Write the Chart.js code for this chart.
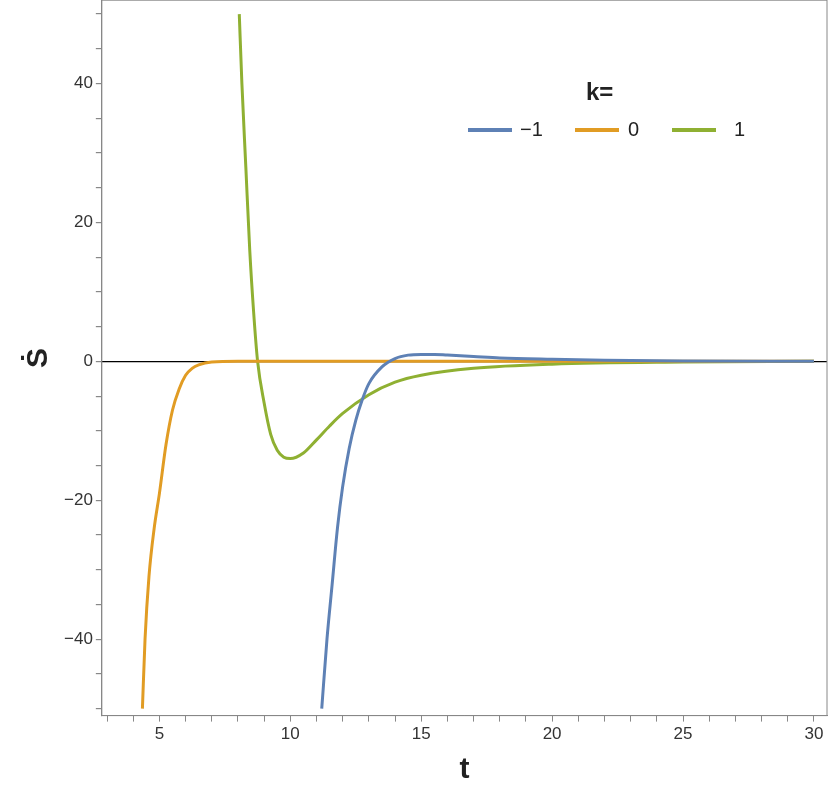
<!DOCTYPE html>
<html><head><meta charset="utf-8">
<script src="https://cdn.jsdelivr.net/npm/chart.js@4"></script>
<style>
body{margin:0;background:#fff;font-family:"Liberation Sans",Arial,sans-serif;overflow:hidden}
#wrap{position:relative;width:830px;height:805px;overflow:hidden}
#c{position:absolute;left:0;top:-13px}
.lg{position:absolute;font-size:20px;color:#222}
.sw{position:absolute;height:4px;width:44px}
</style></head><body>
<div id="wrap"><canvas id="c" width="830" height="805"></canvas>
<div class="lg" style="left:586px;top:78px;font-weight:bold;font-size:24px">k=</div>
<div class="sw" style="left:468px;top:128px;background:#5e81b5"></div><div class="lg" style="left:520px;top:118px">−1</div>
<div class="sw" style="left:575px;top:128px;background:#e19c24"></div><div class="lg" style="left:628px;top:118px">0</div>
<div class="sw" style="left:672px;top:128px;background:#8fb032"></div><div class="lg" style="left:734px;top:118px">1</div>
</div>
<script>
const tBlue=[11.2,11.4,11.6,11.8,12,12.25,12.5,12.75,13,13.5,14,14.5,15,15.5,16,17,18,20,22,25,30];
const sBlue=[-50,-40,-32,-24,-18,-12.5,-8.5,-5.5,-3.2,-0.8,0.4,0.9,1.0,1.0,0.9,0.7,0.5,0.3,0.15,0.05,0];
const tOrange=[4.35,4.45,4.6,4.8,5,5.25,5.5,5.75,6,6.25,6.5,7,8,10,15,20,30];
const sOrange=[-50,-40,-31,-24,-19,-12,-7,-4,-2,-1,-0.5,-0.1,0,0,0,0,0];
const tGreen=[8.05,8.15,8.3,8.45,8.6,8.75,9,9.25,9.5,9.75,10,10.5,11,11.5,12,13,14,15,17,20,25,30];
const sGreen=[50,40,28,16,7,0,-6,-10.5,-12.8,-13.8,-14,-13.2,-11.3,-9.3,-7.5,-4.8,-3,-2,-1,-0.4,-0.1,0];
const pts=(a,b)=>a.map((x,i)=>({x,y:b[i]}));
const ds=(l,a,b,c)=>({label:l,data:pts(a,b),borderColor:c,borderWidth:3,pointRadius:0,showLine:true,cubicInterpolationMode:'monotone',fill:false});
new Chart(document.getElementById('c'),{type:'scatter',
data:{datasets:[ds('-1',tBlue,sBlue,'#5e81b5'),ds('0',tOrange,sOrange,'#e19c24'),ds('1',tGreen,sGreen,'#8fb032')]},
options:{responsive:false,animation:false,clip:true,
layout:{padding:{left:17,right:3,top:0,bottom:0}},
plugins:{legend:{display:false},tooltip:{enabled:false}},
scales:{
x:{type:'linear',min:2.8,max:30.5,border:{color:'#888'},
 grid:{drawOnChartArea:false,tickLength:6,tickColor:'#888'},
 ticks:{stepSize:1,autoSkip:false,maxRotation:0,color:'#333',font:{size:17,family:'Liberation Sans'},callback:v=>v%5===0?String(v):''},
 afterBuildTicks:a=>{a.ticks=[];for(let v=3;v<=30;v++)a.ticks.push({value:v});},
 title:{display:true,text:'t',font:{size:30,weight:'bold',family:'Liberation Sans'},color:'#222',padding:{top:4}}},
y:{type:'linear',min:-51,max:52,border:{color:'#888'},
 grid:{drawOnChartArea:true,color:c=>c.tick&&c.tick.value===0?'#000':'rgba(0,0,0,0)',lineWidth:1.2,tickLength:6,tickColor:'#888'},
 afterBuildTicks:a=>{a.ticks=[];for(let v=-50;v<=50;v+=5)a.ticks.push({value:v});},
 ticks:{autoSkip:false,color:'#333',font:{size:17,family:'Liberation Sans'},callback:v=>v%20===0?(v<0?'−'+(-v):String(v)):''},
 title:{display:true,text:'Ṡ',font:{size:30,weight:'bold',family:'Liberation Sans'},color:'#222'}}
}},
plugins:[{id:'frame',afterDraw(ch){const a=ch.chartArea,g=ch.ctx;g.save();g.strokeStyle='#888';g.lineWidth=1;g.strokeRect(a.left,a.top,a.right-a.left,a.bottom-a.top);g.restore();}}]
});
</script></body></html>
